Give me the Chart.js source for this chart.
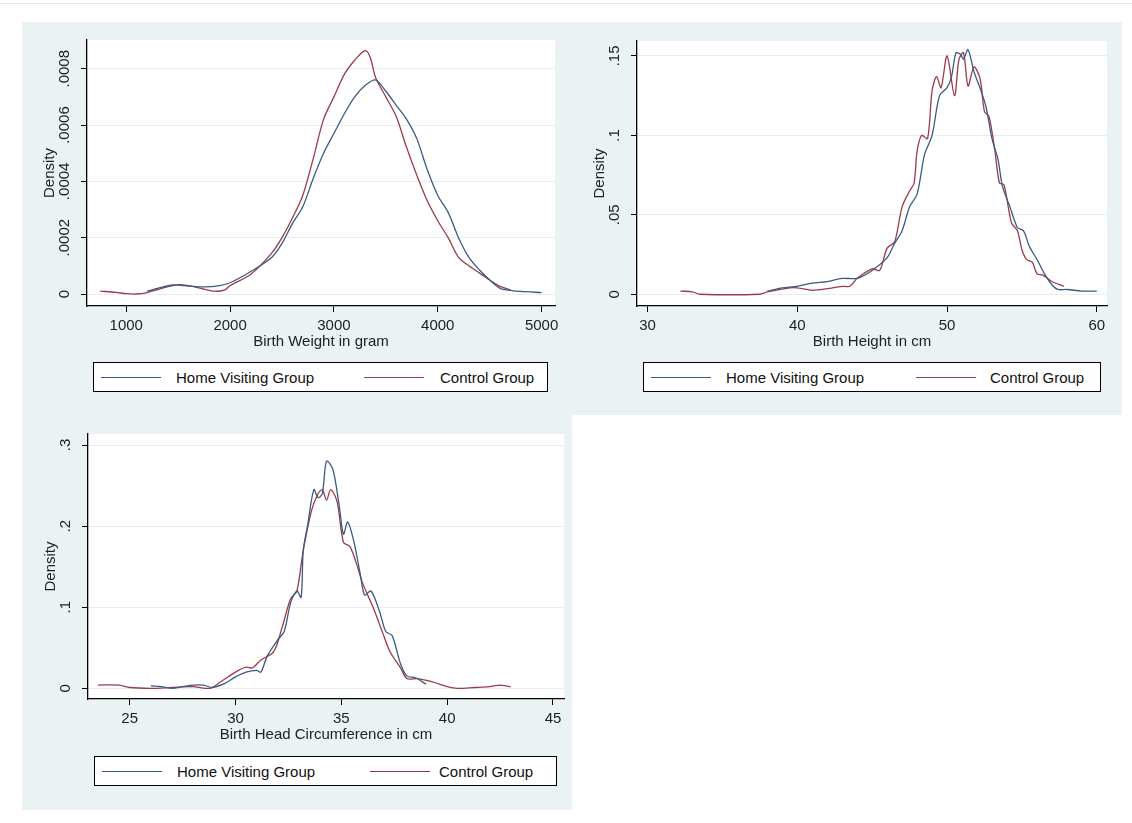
<!DOCTYPE html>
<html>
<head>
<meta charset="utf-8">
<script src="https://cdn.jsdelivr.net/npm/chart.js@4/dist/chart.umd.min.js"></script>
<style>
  body { margin: 0; background: #fff; width: 1132px; height: 823px; position: relative; font-family: "Liberation Sans", Arial, sans-serif; overflow: hidden; }
  .bg { position: absolute; background: #eaf2f3; }
  .topline { position: absolute; left: 0; top: 3px; width: 1132px; height: 1px; background: #e4e8ea; }
  .cv { position: absolute; }
  .legend { position: absolute; height: 30px; border: 1px solid #000; background: #fff; box-sizing: border-box; font-size: 15px; color: #111; }
  .legend span { position: absolute; top: 6px; }
  .legend i { position: absolute; top: 14px; height: 1px; width: 60px; }
</style>
</head>
<body>
<div class="topline"></div>
<div class="bg" style="left:22px;top:22px;width:1100px;height:393px"></div>
<div class="bg" style="left:22px;top:415px;width:550px;height:395px"></div>

<div class="cv" style="left:22px;top:22px;width:550px;height:393px"><canvas id="c1"></canvas></div>
<div class="cv" style="left:572px;top:22px;width:550px;height:393px"><canvas id="c2"></canvas></div>
<div class="cv" style="left:22px;top:415px;width:550px;height:395px"><canvas id="c3"></canvas></div>

<div class="legend" style="left:93px;top:362px;width:455px"><i style="left:7px;background:#3b5b85"></i><span style="left:82px">Home Visiting Group</span><i style="left:270px;background:#9b3a4a"></i><span style="left:346px">Control Group</span></div>
<div class="legend" style="left:643px;top:362px;width:458px"><i style="left:7px;background:#3b5b85"></i><span style="left:82px">Home Visiting Group</span><i style="left:272px;background:#9b3a4a"></i><span style="left:346px">Control Group</span></div>
<div class="legend" style="left:94px;top:756px;width:463px"><i style="left:7px;background:#3b5b85"></i><span style="left:82px">Home Visiting Group</span><i style="left:275px;background:#9b3a4a"></i><span style="left:344px">Control Group</span></div>

<script>
// Birth weight (gram)
var bwHomeX = [1200,1300,1450,1600,1750,1900,2000,2200,2400,2500,2600,2700,2800,2900,3000,3100,3200,3300,3400,3500,3600,3700,3800,3900,4000,4100,4200,4300,4400,4500,4600,4700,4800,5000];
var bwHomeY = [0.00001,0.00002,0.000032,0.000028,0.000025,0.00003,0.00004,0.00008,0.00013,0.00018,0.00025,0.00031,0.00041,0.0005,0.00057,0.00064,0.0007,0.00074,0.00076,0.00072,0.00067,0.00062,0.00055,0.00044,0.00035,0.00029,0.0002,0.00013,0.000086,0.00005,0.00002,0.000013,0.000009,0.000005];
var bwCtrlX = [750,900,1000,1100,1200,1300,1500,1600,1700,1850,1950,2000,2200,2400,2500,2600,2700,2800,2900,3000,3100,3200,3300,3350,3400,3500,3600,3700,3800,3900,4000,4100,4200,4300,4400,4500,4600,4700];
var bwCtrlY = [0.00001,0.000006,0.000001,0,0.000005,0.000016,0.000033,0.00003,0.000022,0.00001,0.000015,0.00003,0.00007,0.000145,0.0002,0.00027,0.00035,0.00048,0.00062,0.0007,0.00078,0.00083,0.000864,0.00084,0.00077,0.0007,0.00063,0.00052,0.00042,0.00033,0.00026,0.0002,0.00013,0.0001,0.000075,0.00005,0.000027,0.000015];

// Birth height (cm)
var bhHomeX = [38,39,40,41,42,43,44,45,46,46.5,47,47.5,48,48.5,49,49.5,50,50.3,50.6,50.9,51.1,51.4,51.8,52.2,52.6,53,53.4,53.7,54.2,54.7,55.1,55.5,56,56.5,57,57.4,58,59,60];
var bhHomeY = [0.002,0.004,0.005,0.007,0.008,0.01,0.01,0.015,0.023,0.032,0.04,0.055,0.063,0.088,0.1,0.125,0.13,0.137,0.152,0.151,0.148,0.154,0.14,0.13,0.118,0.098,0.085,0.068,0.055,0.042,0.04,0.03,0.022,0.013,0.006,0.003,0.003,0.002,0.002];
var bhCtrlX = [32.2,33,33.5,37.5,38,39.5,40,41,42,43,43.5,44,45,45.5,46,46.5,47,47.5,47.8,48,48.3,48.7,49,49.3,49.6,50,50.5,50.8,51.1,51.4,51.8,52.2,52.5,52.8,53.2,53.5,53.8,54.3,54.7,55,55.3,55.7,56,56.4,57,57.8];
var bhCtrlY = [0.002,0.0015,0,0,0.0015,0.004,0.004,0.0025,0.0035,0.005,0.005,0.01,0.016,0.015,0.029,0.033,0.055,0.065,0.07,0.09,0.1,0.098,0.128,0.137,0.13,0.15,0.125,0.148,0.152,0.131,0.143,0.136,0.115,0.112,0.09,0.07,0.069,0.045,0.04,0.028,0.022,0.02,0.013,0.012,0.008,0.005];

// Birth head circumference (cm)
var hcHomeX = [26,26.5,27,27.5,28,28.5,28.9,29.5,30,30.5,31,31.2,31.5,32,32.3,32.6,32.9,33.1,33.2,33.4,33.7,33.9,34.1,34.3,34.6,34.9,35.1,35.3,35.6,35.9,36.1,36.4,36.8,37.1,37.4,37.8,38.1,38.5,39];
var hcHomeY = [0.003,0.002,0,0.002,0.004,0.004,0.001,0.006,0.014,0.02,0.022,0.02,0.04,0.06,0.07,0.105,0.12,0.112,0.17,0.2,0.245,0.235,0.24,0.28,0.27,0.225,0.19,0.205,0.18,0.14,0.115,0.12,0.095,0.07,0.065,0.03,0.015,0.013,0.005];
var hcCtrlX = [23.5,24.5,25,26,27,28,28.8,29.3,30,30.5,30.8,31.2,31.8,32.2,32.6,32.9,33.2,33.6,33.9,34.1,34.3,34.5,34.8,35.1,35.4,35.7,36,36.5,37,37.3,37.8,38.1,38.6,39.3,40,40.5,41.3,42,42.5,43];
var hcCtrlY = [0.004,0.004,0.001,0,0.001,0.002,0,0.008,0.02,0.026,0.025,0.035,0.045,0.075,0.11,0.12,0.17,0.22,0.24,0.245,0.232,0.245,0.23,0.18,0.175,0.155,0.13,0.1,0.065,0.045,0.025,0.012,0.012,0.008,0.002,0,0.001,0.002,0.004,0.002];

var BLUE = '#3b5b85', RED = '#9b3a4a';

function pts(xs, ys) { return xs.map(function (x, i) { return { x: x, y: ys[i] }; }); }
function fmt(v) { return v === 0 ? '0' : String(+v.toFixed(6)).replace(/^0\./, '.'); }

// y tick labels + "Density" drawn rotated, like Stata does
var yLabels = {
  id: 'yLabels',
  afterDraw: function (chart) {
    var ctx = chart.ctx, ys = chart.scales.y, area = chart.chartArea;
    ctx.save();
    ctx.fillStyle = '#222';
    ctx.font = '15px "Liberation Sans", Arial, sans-serif';
    ctx.textAlign = 'center';
    ctx.textBaseline = 'middle';
    chart.options.plugins.yLabels.ticks.forEach(function (t) {
      ctx.save();
      ctx.translate(area.left - 22, ys.getPixelForValue(t));
      ctx.rotate(-Math.PI / 2);
      ctx.fillText(fmt(t), 0, 0);
      ctx.restore();
    });
    ctx.translate(area.left - 37, (area.top + area.bottom) / 2);
    ctx.rotate(-Math.PI / 2);
    ctx.fillText('Density', 0, 0);
    ctx.restore();
  }
};

function make(id, home, ctrl, o) {
  new Chart(document.getElementById(id), {
    type: 'line',
    data: {
      datasets: [
        { data: home, borderColor: BLUE, borderWidth: 1.3, pointRadius: 0, tension: 0.3, fill: false },
        { data: ctrl, borderColor: RED, borderWidth: 1.3, pointRadius: 0, tension: 0.3, fill: false }
      ]
    },
    options: {
      responsive: true,
      maintainAspectRatio: false,
      animation: false,
      layout: { padding: { top: o.top, right: o.right, bottom: o.bottom, left: 0 } },
      plugins: { legend: { display: false }, tooltip: { enabled: false }, yLabels: { ticks: o.yTicks } },
      scales: {
        x: {
          type: 'linear', min: o.xMin, max: o.xMax,
          afterBuildTicks: function (s) { s.ticks = o.xTicks.map(function (v) { return { value: v }; }); },
          afterFit: function (s) { s.height = 45; },
          border: { color: '#000', width: 1.3 },
          grid: { drawOnChartArea: false, color: '#000', tickLength: 6 },
          ticks: { color: '#222', font: { size: 15, family: '"Liberation Sans", Arial' }, padding: 5, maxRotation: 0,
                   callback: function (v) { return String(v); } },
          title: { display: true, text: o.xTitle, color: '#222', font: { size: 15, family: '"Liberation Sans", Arial' }, padding: 0 }
        },
        y: {
          min: o.yMin, max: o.yMax,
          afterBuildTicks: function (s) { s.ticks = o.yTicks.map(function (v) { return { value: v }; }); },
          afterFit: function (s) { s.width = o.yw; },
          border: { color: '#000', width: 1.3 },
          grid: { color: '#e6eeef', tickLength: 6, tickColor: '#000', lineWidth: 1 },
          ticks: { display: false }
        }
      }
    },
    plugins: [yLabels, {
      id: 'white',
      beforeDraw: function (c) {
        var a = c.chartArea;
        c.ctx.save(); c.ctx.fillStyle = '#fff';
        c.ctx.fillRect(a.left, a.top, a.right - a.left, a.bottom - a.top);
        c.ctx.restore();
      }
    }]
  });
}

make('c1', pts(bwHomeX, bwHomeY), pts(bwCtrlX, bwCtrlY), {
  xMin: 622, xMax: 5129, xTicks: [1000, 2000, 3000, 4000, 5000], xTitle: 'Birth Weight in gram',
  yMin: -0.0000426, yMax: 0.000902, yTicks: [0, 0.0002, 0.0004, 0.0006, 0.0008],
  top: 18, right: 17, bottom: 64, yw: 65
});
make('c2', pts(bhHomeX, bhHomeY), pts(bhCtrlX, bhCtrlY), {
  xMin: 29.3, xMax: 60.68, xTicks: [30, 40, 50, 60], xTitle: 'Birth Height in cm',
  yMin: -0.0074, yMax: 0.1594, yTicks: [0, 0.05, 0.1, 0.15],
  top: 19, right: 15, bottom: 64, yw: 65
});
make('c3', pts(hcHomeX, hcHomeY), pts(hcCtrlX, hcCtrlY), {
  xMin: 23.03, xMax: 45.52, xTicks: [25, 30, 35, 40, 45], xTitle: 'Birth Head Circumference in cm',
  yMin: -0.0132, yMax: 0.3136, yTicks: [0, 0.1, 0.2, 0.3],
  top: 19, right: 8, bottom: 66, yw: 66
});
</script>
</body>
</html>
